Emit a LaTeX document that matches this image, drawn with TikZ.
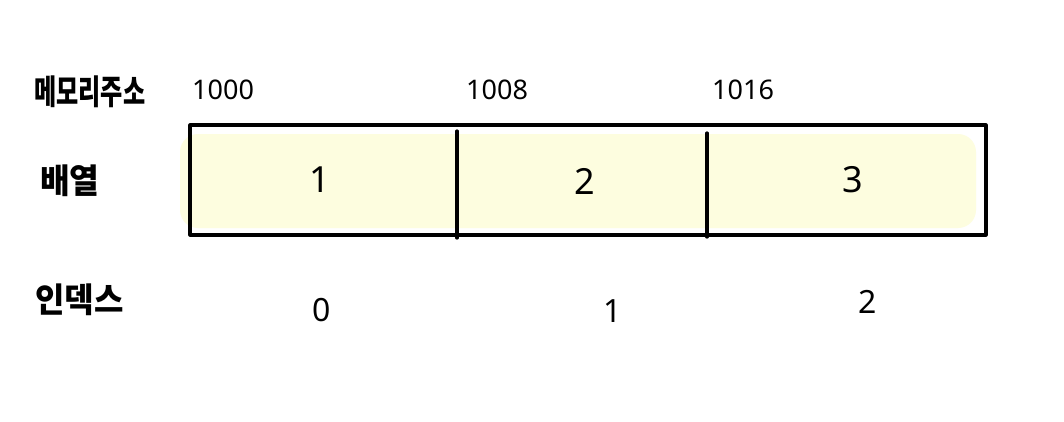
\documentclass[tikz,border=0pt]{standalone}
\usepackage{fontspec}
\setmainfont{Noto Sans}
\newfontfamily\kr{Noto Sans CJK KR}
\definecolor{cellfill}{HTML}{FDFDDF}
\begin{document}
\begin{tikzpicture}[x=1pt,y=-1pt,
  lbl/.style={font=\kr\bfseries\fontsize{34}{36}\selectfont, anchor=west, inner sep=0pt},
  addr/.style={font=\fontsize{27}{29}\selectfont, anchor=west, inner sep=0pt},
  val/.style={font=\fontsize{36}{38}\selectfont, inner sep=0pt},
  idx/.style={font=\fontsize{32}{34}\selectfont, inner sep=0pt},
  edge/.style={line width=3.2pt, line cap=round, line join=round}]
\useasboundingbox (0,0) rectangle (1064,421);
\fill[white] (0,0) rectangle (1064,421);
% yellow highlight
\fill[cellfill, rounded corners=18pt] (180,134) rectangle (976,228);
% array box
\draw[edge] (190,125) rectangle (986,235);
\coordinate (d1t) at (457,131); \coordinate (d1b) at (457,238);
\coordinate (d2t) at (707,133); \coordinate (d2b) at (707,237);
\draw[edge] (d1t) -- (d1b);
\draw[edge] (d2t) -- (d2b);
% labels
\node[lbl] (mem) at (34,92) {\scalebox{0.71}[1]{메모리주소}};
\node[lbl] (arr) at (40,181) {\scalebox{0.95}[1]{배열}};
\node[lbl] (ind) at (35,300) {\scalebox{0.94}[1]{인덱스}};
% addresses
\node[addr] (a0) at (192,90) {1000};
\node[addr] (a1) at (466,90) {1008};
\node[addr] (a2) at (712,90) {1016};
% values
\node[val] (v0) at (320,180) {1};
\node[val] (v1) at (585,181) {2};
\node[val] (v2) at (853,180) {3};
% indices
\node[idx] (i0) at (322,310) {0};
\node[idx] (i1) at (613,311) {1};
\node[idx] (i2) at (868,302) {2};
\end{tikzpicture}
\end{document}
